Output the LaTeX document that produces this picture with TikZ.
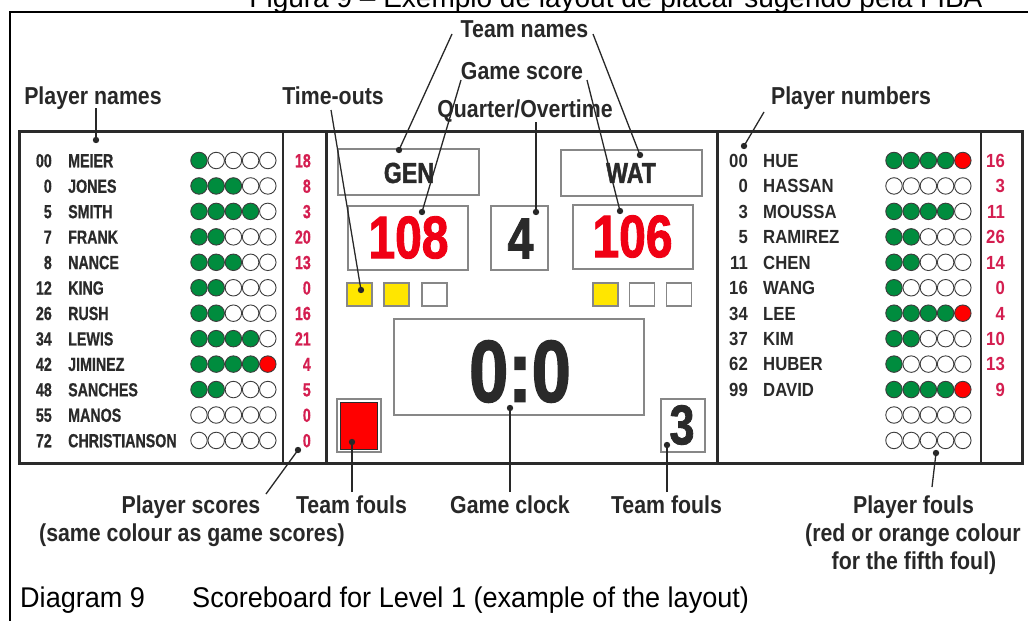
\documentclass[tikz,border=0pt]{standalone}
\usepackage{fontspec}
\setmainfont{Liberation Sans}
\newfontfamily\lblfont{Liberation Sans}[FakeStretch=0.87]
\newfontfamily\leftfont{Liberation Sans}[FakeStretch=0.75,FakeBold=0.6]
\newfontfamily\rightfont{Liberation Sans}[FakeStretch=0.88]
\newfontfamily\bigfont{Liberation Sans}[FakeStretch=0.8,FakeBold=1.5]
\newfontfamily\capfont{Liberation Sans}[FakeStretch=0.95]
\definecolor{scorered}{RGB}{212,30,80}
\definecolor{foulgreen}{RGB}{0,140,62}
\definecolor{foulred}{RGB}{255,0,0}
\definecolor{bigred}{RGB}{240,0,20}
\definecolor{toyellow}{RGB}{255,230,0}
\definecolor{boxgray}{RGB}{135,135,135}
\definecolor{boarddark}{RGB}{42,42,42}
\definecolor{lblgray}{RGB}{40,40,40}
\definecolor{circgray}{RGB}{60,60,60}
\tikzset{
  lbl/.style={font=\lblfont\bfseries\fontsize{24.5}{28}\selectfont, text=lblgray, inner sep=0, anchor=base},
  lname/.style={font=\leftfont\bfseries\fontsize{19}{19}\selectfont, text=boarddark, inner sep=0},
  rname/.style={font=\rightfont\bfseries\fontsize{19}{19}\selectfont, text=boarddark, inner sep=0},
  cbox/.style={draw=boxgray, line width=1.3, inner sep=0},
  bigtxt/.style={font=\bigfont\bfseries, inner sep=0, anchor=center},
  foul/.style={circle, draw=circgray, line width=0.9, minimum size=16.5, inner sep=0},
  tobox/.style={cbox, minimum width=25, minimum height=23},
  conn/.style={draw=lblgray, line width=1.3},
  tipdot/.style={fill=lblgray},
  capt/.style={anchor=base west, inner sep=0, font=\capfont\fontsize{28.5}{30}\selectfont, text=black},
}
\begin{document}
\begin{tikzpicture}[x=1pt,y=-1pt]
\useasboundingbox (0,0) rectangle (1028,621);
\fill[white] (0,0) rectangle (1028,621);
% top caption (cut off at the page edge, as in the reference)
\node[anchor=base, inner sep=0, font=\fontsize{28}{30}\selectfont] (topcap) at (616,7) {Figura 9 – Exemplo de layout de placar sugerido pela FIBA};
% outer frame
\draw[line width=1.8, black] (10,621) -- (10,12) -- (1028,12);
% main board
\draw[line width=3, boarddark] (19,131) rectangle (1022,463);
\draw[line width=3, boarddark] (326,131) -- (326,463);
\draw[line width=3, boarddark] (717,131) -- (717,463);
\draw[line width=1.5, boarddark] (283,131) -- (283,463);
\draw[line width=1.5, boarddark] (981,131) -- (981,463);

% left team rows
\foreach \n/\nm/\g/\r/\s [count=\i from 0] in {00/MEIER/1/0/18, 0/JONES/3/0/8, 5/SMITH/4/0/3, 7/FRANK/2/0/20, 8/NANCE/3/0/13, 12/KING/2/0/0, 26/RUSH/2/0/16, 34/LEWIS/4/0/21, 42/JIMINEZ/4/1/4, 48/SANCHES/2/0/5, 55/MANOS/0/0/0, 72/CHRISTIANSON/0/0/0}{
  \pgfmathsetmacro\yy{160.5+25.45*\i}
  \pgfmathsetmacro\yb{\yy+6.8}
  \node[lname, anchor=base east] (lnum\i) at (52,\yb) {\n};
  \node[lname, anchor=base west] (lnam\i) at (68,\yb) {\nm};
  \node[lname, anchor=base east, text=scorered] (lsc\i) at (311,\yb) {\s};
  \foreach \k in {1,...,5}{
    \ifnum\k>\g \def\fc{white}\else \def\fc{foulgreen}\fi
    \ifnum\k=5 \ifnum\r=1 \def\fc{foulred}\fi\fi
    \node[foul, fill=\fc] (lf\i-\k) at ({199+17.2*(\k-1)},\yy) {};
  }
}
% right team rows
\foreach \n/\nm/\g/\r/\s [count=\i from 0] in {00/HUE/4/1/16, 0/HASSAN/0/0/3, 3/MOUSSA/4/0/11, 5/RAMIREZ/2/0/26, 11/CHEN/2/0/14, 16/WANG/1/0/0, 34/LEE/4/1/4, 37/KIM/2/0/10, 62/HUBER/1/0/13, 99/DAVID/4/1/9, {}/{}/0/0/{}, {}/{}/0/0/{}}{
  \pgfmathsetmacro\yy{160.5+25.45*\i}
  \pgfmathsetmacro\yb{\yy+6.8}
  \node[rname, anchor=base east] (rnum\i) at (748,\yb) {\n};
  \node[rname, anchor=base west] (rnam\i) at (763,\yb) {\nm};
  \node[rname, anchor=base east, text=scorered] (rsc\i) at (1005,\yb) {\s};
  \foreach \k in {1,...,5}{
    \ifnum\k>\g \def\fc{white}\else \def\fc{foulgreen}\fi
    \ifnum\k=5 \ifnum\r=1 \def\fc{foulred}\fi\fi
    \node[foul, fill=\fc] (rf\i-\k) at ({894+17.2*(\k-1)},\yy) {};
  }
}

% centre boxes
\node[cbox, minimum width=141, minimum height=46] (genbox) at (408.5,172) {};
\node[cbox, minimum width=141, minimum height=46] (watbox) at (631.5,173) {};
\node[cbox, minimum width=120, minimum height=64] (hscore) at (408,238) {};
\node[cbox, minimum width=57, minimum height=64] (qbox) at (519.5,238) {};
\node[cbox, minimum width=120, minimum height=64] (gscore) at (633,237) {};
\node[cbox, minimum width=250, minimum height=96] (clock) at (519,367) {};
\node[cbox, minimum width=44, minimum height=53] (tfl) at (359,425.5) {};
\node[draw=boarddark, line width=0.9, fill=foulred, minimum width=37, minimum height=47, inner sep=0] (tflin) at (359,425.5) {};
\node[cbox, minimum width=44, minimum height=53] (tfr) at (683,425.5) {};
\node[tobox, fill=toyellow] (tol1) at (359.5,294.5) {};
\node[tobox, fill=toyellow] (tol2) at (396.5,294.5) {};
\node[tobox, fill=white] (tol3) at (434.5,294.5) {};
\node[tobox, fill=toyellow] (tor1) at (605.5,294.5) {};
\node[tobox, fill=white] (tor2) at (642,294.5) {};
\node[tobox, fill=white] (tor3) at (679,294.5) {};

\node[bigtxt, text=boarddark, font=\bigfont\bfseries\fontsize{29}{29}\selectfont] (gen) at (409,173) {GEN};
\node[bigtxt, text=boarddark, font=\bigfont\bfseries\fontsize{29}{29}\selectfont] (wat) at (631,173) {WAT};
\node[bigtxt, text=bigred, font=\bigfont\bfseries\fontsize{60}{60}\selectfont] (s108) at (408.5,237.5) {108};
\node[bigtxt, text=boarddark, font=\bigfont\bfseries\fontsize{58}{58}\selectfont] (q4) at (520.5,238.5) {4};
\node[bigtxt, text=bigred, font=\bigfont\bfseries\fontsize{60}{60}\selectfont] (s106) at (632.5,236.5) {106};
\node[bigtxt, text=boarddark, font=\bigfont\bfseries\fontsize{88}{88}\selectfont] (clk) at (520,371.5) {0:0};
\node[bigtxt, text=boarddark, font=\bigfont\bfseries\fontsize{56}{56}\selectfont] (f3) at (682,425) {3};

% labels
\node[lbl] (Lteam) at (524.5,37) {Team names};
\node[lbl] (Lgscore) at (522,79) {Game score};
\node[lbl] (Lquart) at (525,117) {Quarter/Overtime};
\node[lbl] (Ltime) at (333,104) {Time-outs};
\node[lbl] (Lpname) at (93,104) {Player names};
\node[lbl] (Lpnum) at (851,104) {Player numbers};
\node[lbl] (Lpsc) at (191,513) {Player scores};
\node[lbl] (Lpsc2) at (192,541) {(same colour as game scores)};
\node[lbl] (Ltfl) at (351.5,513) {Team fouls};
\node[lbl] (Lclk) at (510,513) {Game clock};
\node[lbl] (Ltfr) at (666.5,513) {Team fouls};
\node[lbl] (Lpf) at (913.5,513) {Player fouls};
\node[lbl] (Lpf2) at (913,541) {(red or orange colour};
\node[lbl] (Lpf3) at (914,569) {for the fifth foul)};

% bottom caption
\node[capt] (dcap1) at (20,607) {Diagram 9};
\node[capt] (dcap2) at (192,607) {Scoreboard for Level 1 (example of the layout)};

% connector end points
\coordinate (cPN) at (96,108);   \coordinate (dPN) at (96,140);
\coordinate (cTO) at (331,110);  \coordinate (dTO) at (361,290);
\coordinate (cTL) at (452,34);   \coordinate (dTL) at (399,150);
\coordinate (cTR) at (593,34);   \coordinate (dTR) at (640,155);
\coordinate (cGL) at (461,80);   \coordinate (dGL) at (422,212);
\coordinate (cGR) at (587,80);   \coordinate (dGR) at (620,211);
\coordinate (cQ) at (536,122);   \coordinate (dQ) at (536,212);
\coordinate (cNU) at (764,112);  \coordinate (dNU) at (744,146);
\coordinate (cPS) at (266,494);  \coordinate (dPS) at (298,450);
\coordinate (cFL) at (352,492);  \coordinate (dFL) at (352,442);
\coordinate (cCK) at (510,492);  \coordinate (dCK) at (510,408);
\coordinate (cFR) at (667,492);  \coordinate (dFR) at (667,445);
\coordinate (cPF) at (932,487);  \coordinate (dPF) at (936,453);
\foreach \a in {PN,TO,TL,TR,GL,GR,Q,NU,PS,FL,CK,FR,PF}{
  \draw[conn] (c\a) -- (d\a);
  \fill[tipdot] (d\a) circle (3.2);
}
\end{tikzpicture}
\end{document}
